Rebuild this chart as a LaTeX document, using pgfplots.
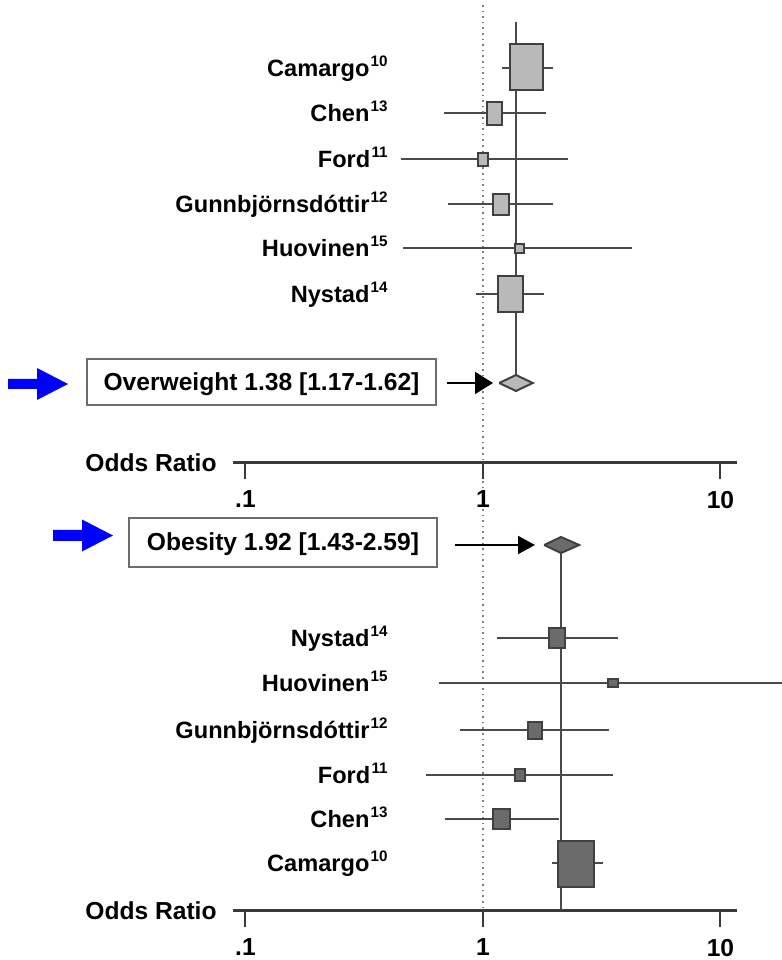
\documentclass[border=0pt]{standalone}
\usepackage{pgfplots}
\pgfplotsset{compat=1.18}
\usepackage{fontspec}
\setmainfont{Liberation Sans}
\usetikzlibrary{arrows.meta}
\definecolor{ci}{HTML}{4A4A4A}
\definecolor{lightbox}{HTML}{B9B9B9}
\definecolor{darkbox}{HTML}{6B6B6B}
\definecolor{edge}{HTML}{404040}
\definecolor{axcol}{HTML}{3A3A3A}
\newcommand{\lbl}{\fontsize{11.8}{14}\selectfont\bfseries}
\newcommand{\bigf}{\fontsize{12.3}{14}\selectfont\bfseries}
\newcommand{\sU}[1]{\kern0.6pt\raisebox{5.2pt}{\fontsize{7.6}{9}\selectfont #1}}
\begin{document}
\begin{tikzpicture}[x=0.5pt,y=0.5pt]
\path[use as bounding box] (0,0) rectangle (782,960);
\begin{axis}[at={(0pt,0pt)}, anchor=south west, scale only axis, width=391pt, height=480pt,
  xmode=log, xmin=0.009254, xmax=18.155, ymin=0, ymax=960, y dir=reverse,
  hide axis, clip=false]
% reference line OR = 1
\addplot[gray, dotted, line width=0.8pt] coordinates {(1,5) (1,911)};
% pooled estimate lines
\addplot[ci, line width=1pt] coordinates {(1.377,22) (1.377,375)};
\addplot[ci, line width=1pt] coordinates {(2.13,553) (2.13,911)};
% ---------- Overweight: confidence intervals ----------
\addplot[ci, line width=1pt] coordinates {(1.20,68) (1.97,68)};   % Camargo
\addplot[ci, line width=1pt] coordinates {(0.687,113) (1.84,113)}; % Chen
\addplot[ci, line width=1pt] coordinates {(0.45,159) (2.27,159)};  % Ford
\addplot[ci, line width=1pt] coordinates {(0.71,204) (1.97,204)};  % Gunnbjornsdottir
\addplot[ci, line width=1pt] coordinates {(0.46,248) (4.23,248)};  % Huovinen
\addplot[ci, line width=1pt] coordinates {(0.93,294) (1.81,294)};  % Nystad
% ---------- Overweight: point estimates ----------
\addplot[only marks, mark=square*, mark size=0.25pt, mark options={xscale=33, yscale=46, draw=edge, fill=lightbox, line width=1pt}] coordinates {(1.53,67)};
\addplot[only marks, mark=square*, mark size=0.25pt, mark options={xscale=15, yscale=23, draw=edge, fill=lightbox, line width=1pt}] coordinates {(1.12,113)};
\addplot[only marks, mark=square*, mark size=0.25pt, mark options={xscale=10, yscale=13, draw=edge, fill=lightbox, line width=1pt}] coordinates {(1.00,159)};
\addplot[only marks, mark=square*, mark size=0.25pt, mark options={xscale=16, yscale=21, draw=edge, fill=lightbox, line width=1pt}] coordinates {(1.19,204)};
\addplot[only marks, mark=square*, mark size=0.25pt, mark options={xscale=9, yscale=9, draw=edge, fill=lightbox, line width=1pt}] coordinates {(1.42,248)};
\addplot[only marks, mark=square*, mark size=0.25pt, mark options={xscale=25, yscale=36, draw=edge, fill=lightbox, line width=1pt}] coordinates {(1.30,294)};
% pooled diamond
\addplot[fill=lightbox, draw=edge, line width=1pt, line join=miter] coordinates {(1.17,383) (1.377,375) (1.62,383) (1.377,391) (1.17,383)};
% ---------- Obesity: confidence intervals ----------
\addplot[ci, line width=1pt] coordinates {(1.14,638) (3.69,638)};  % Nystad
\addplot[ci, line width=1pt] coordinates {(0.65,683) (18.1,683)};  % Huovinen
\addplot[ci, line width=1pt] coordinates {(0.80,730) (3.39,730)};  % Gunnbjornsdottir
\addplot[ci, line width=1pt] coordinates {(0.575,775) (3.52,775)}; % Ford
\addplot[ci, line width=1pt] coordinates {(0.69,819) (2.09,819)};  % Chen
\addplot[ci, line width=1pt] coordinates {(1.95,863) (3.21,863)};  % Camargo
% ---------- Obesity: point estimates ----------
\addplot[only marks, mark=square*, mark size=0.25pt, mark options={xscale=16, yscale=20, draw=edge, fill=darkbox, line width=1pt}] coordinates {(2.05,638)};
\addplot[only marks, mark=square*, mark size=0.25pt, mark options={xscale=10, yscale=8, draw=edge, fill=darkbox, line width=1pt}] coordinates {(3.54,683)};
\addplot[only marks, mark=square*, mark size=0.25pt, mark options={xscale=14, yscale=17, draw=edge, fill=darkbox, line width=1pt}] coordinates {(1.65,730)};
\addplot[only marks, mark=square*, mark size=0.25pt, mark options={xscale=10, yscale=12, draw=edge, fill=darkbox, line width=1pt}] coordinates {(1.43,775)};
\addplot[only marks, mark=square*, mark size=0.25pt, mark options={xscale=17, yscale=20, draw=edge, fill=darkbox, line width=1pt}] coordinates {(1.20,819)};
\addplot[only marks, mark=square*, mark size=0.25pt, mark options={xscale=36, yscale=46, draw=edge, fill=darkbox, line width=1pt}] coordinates {(2.46,864)};
% pooled diamond
\addplot[fill=darkbox, draw=edge, line width=1pt, line join=miter] coordinates {(1.81,545) (2.13,537) (2.54,545) (2.13,553) (1.81,545)};
\end{axis}
% odds ratio scales
\begin{axis}[at={(116.5pt,248.5pt)}, anchor=south west,
    scale only axis, width=252pt, height=20pt, xmode=log,
    xmin=0.08859, xmax=11.737, ymin=0, ymax=1,
    axis x line*=bottom, axis y line=none, x axis line style={-, line width=1.5pt, axcol},
    xtick={0.1,1,10}, xticklabels={.1,1,10}, xminorticks=false,
    tick align=outside, major tick length=8pt,
    every tick/.style={line width=1pt, axcol},
    xticklabel style={font=\bigf, text=black, yshift=-2.5pt}]
\end{axis}
\begin{axis}[at={(116.5pt,24.5pt)}, anchor=south west,
    scale only axis, width=252pt, height=20pt, xmode=log,
    xmin=0.08859, xmax=11.737, ymin=0, ymax=1,
    axis x line*=bottom, axis y line=none, x axis line style={-, line width=1.5pt, axcol},
    xtick={0.1,1,10}, xticklabels={.1,1,10}, xminorticks=false,
    tick align=outside, major tick length=8pt,
    every tick/.style={line width=1pt, axcol},
    xticklabel style={font=\bigf, text=black, yshift=-2.5pt}]
\end{axis}
% scale titles
\node[anchor=base east, inner sep=0, font=\bigf] at (217,488.5) {Odds Ratio};
\node[anchor=base east, inner sep=0, font=\bigf] at (217,40.5) {Odds Ratio};
% study labels (overweight)
\node[anchor=base east, inner sep=0, font=\lbl] at (388,883.5) {Camargo\sU{10}};
\node[anchor=base east, inner sep=0, font=\lbl] at (388,838.5) {Chen\sU{13}};
\node[anchor=base east, inner sep=0, font=\lbl] at (388,792.5) {Ford\sU{11}};
\node[anchor=base east, inner sep=0, font=\lbl] at (388,747.5) {Gunnbjörnsdóttir\sU{12}};
\node[anchor=base east, inner sep=0, font=\lbl] at (388,703.5) {Huovinen\sU{15}};
\node[anchor=base east, inner sep=0, font=\lbl] at (388,657.5) {Nystad\sU{14}};
% study labels (obesity)
\node[anchor=base east, inner sep=0, font=\lbl] at (388,313.5) {Nystad\sU{14}};
\node[anchor=base east, inner sep=0, font=\lbl] at (388,268.5) {Huovinen\sU{15}};
\node[anchor=base east, inner sep=0, font=\lbl] at (388,221.5) {Gunnbjörnsdóttir\sU{12}};
\node[anchor=base east, inner sep=0, font=\lbl] at (388,176.5) {Ford\sU{11}};
\node[anchor=base east, inner sep=0, font=\lbl] at (388,132.5) {Chen\sU{13}};
\node[anchor=base east, inner sep=0, font=\lbl] at (388,88.5) {Camargo\sU{10}};
% summary boxes
\draw[gray!85!black, line width=1.2pt] (87,601) rectangle (436,555);
\node[anchor=base, inner sep=0, font=\bigf] at (261.5,569) {Overweight 1.38 [1.17-1.62]};
\draw[gray!85!black, line width=1.2pt] (129,442) rectangle (437,393);
\node[anchor=base, inner sep=0, font=\bigf] at (283,409) {Obesity 1.92 [1.43-2.59]};
% black pointer arrows
\draw[line width=1pt, -{Triangle[length=9pt,width=11pt]}] (447,577) -- (493,577);
\draw[line width=1pt, -{Triangle[length=8.5pt,width=9pt]}] (455,415) -- (535,415);
% blue arrows
\fill[blue] (8,581) -- (37,581) -- (37,592) -- (68,576) -- (37,560) -- (37,571) -- (8,571) -- cycle;
\fill[blue] (53,430) -- (82,430) -- (82,440.5) -- (113,424.5) -- (82,408.5) -- (82,419) -- (53,419) -- cycle;
\end{tikzpicture}
\end{document}
